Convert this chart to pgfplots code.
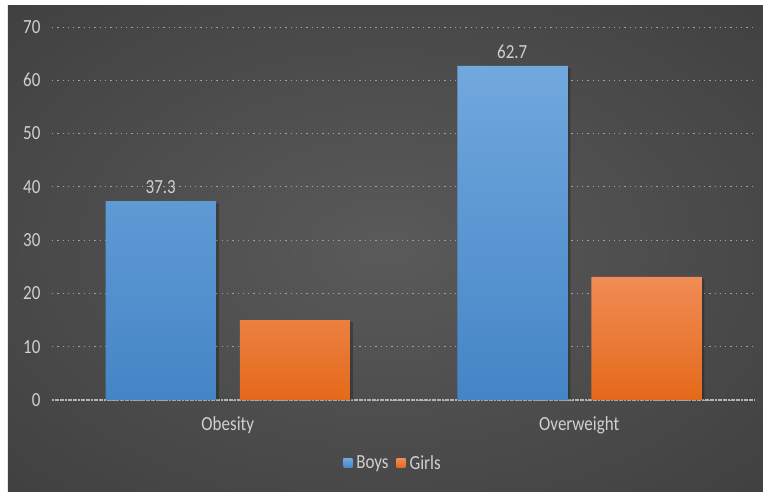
\documentclass[border=0pt]{standalone}
\usepackage{fontspec}
\setmainfont{Carlito}
\newfontfamily\chartfont[FakeStretch=0.85]{Carlito}
\usepackage{pgfplots}
\pgfplotsset{compat=1.18}

\definecolor{bgin}{HTML}{5A5A5A}
\definecolor{bgout}{HTML}{262626}
\definecolor{txt}{HTML}{D0D0D0}
\definecolor{gridc}{HTML}{A0A0A0}
\definecolor{boystop}{HTML}{71A8DE}
\definecolor{boysbot}{HTML}{4485C6}
\definecolor{girlstop}{HTML}{F08C55}
\definecolor{girlsbot}{HTML}{E4691A}
\pgfdeclareradialshading{bgshade}{\pgfpoint{0bp}{0bp}}{color(0bp)=(bgin); color(72bp)=(bgout)}

\begin{document}
\begin{tikzpicture}[x=1pt,y=1pt]
\fill[white] (-52,-91) rectangle (711,400);
\shade[shading=bgshade] (-44,-91) rectangle (711,394);
\begin{axis}[
    at={(0,0)}, anchor=south west,
    scale only axis,
    width=703pt, height=373pt,
    xmin=-0.5, xmax=1.5,
    ymin=0, ymax=70,
    ytick={0,10,...,70},
    xtick={0,1},
    xticklabels={Obesity,Overweight},
    axis line style={draw=none},
    major tick length=0pt,
    ymajorgrids,
    grid style={color=gridc, line width=0.9pt, dash pattern=on 1.3pt off 4pt},
    extra y ticks={0},
    extra y tick labels={},
    extra y tick style={grid style={color=gridc!80!white, line width=1.2pt, dash pattern=on 2pt off 0.6pt}},
    tick label style={font=\chartfont\fontsize{20}{22}\selectfont, color=txt},
    /pgf/number format/assume math mode=true,
    yticklabel style={xshift=-8pt},
    xticklabel style={yshift=-13pt},
    clip=false,
    legend style={at={(0.485,-0.169)}, anchor=center, draw=none, fill=none,
        font=\chartfont\fontsize{20}{22}\selectfont, text=txt, legend columns=2,
        /tikz/every even column/.append style={column sep=6pt}},
    legend image code/.code={\fill[#1] (0pt,-4.5pt) rectangle (9pt,4.5pt); \path (0pt,0pt) -- (11pt,0pt);},
]
% shadows
\addplot[ybar, bar width=110pt, bar shift=-64pt, draw=none, fill=black, opacity=0.25, forget plot]
    coordinates {(0,36.9) (1,62.3)};
\addplot[ybar, bar width=110pt, bar shift=70pt, draw=none, fill=black, opacity=0.25, forget plot]
    coordinates {(0,14.6) (1,22.7)};
% bars
\addplot[ybar, bar width=110pt, bar shift=-67pt, draw=none,
    top color=boystop, bottom color=boysbot,
    nodes near coords, nodes near coords align={vertical},
    every node near coord/.append style={font=\chartfont\fontsize{20}{22}\selectfont, color=txt, xshift=-67pt, yshift=4pt}]
    coordinates {(0,37.3) (1,62.7)};
\addlegendentry{Boys}
\addplot[ybar, bar width=110pt, bar shift=67pt, draw=none,
    top color=girlstop, bottom color=girlsbot]
    coordinates {(0,15.0) (1,23.1)};
\addlegendentry{Girls}
\end{axis}
\end{tikzpicture}
\end{document}
